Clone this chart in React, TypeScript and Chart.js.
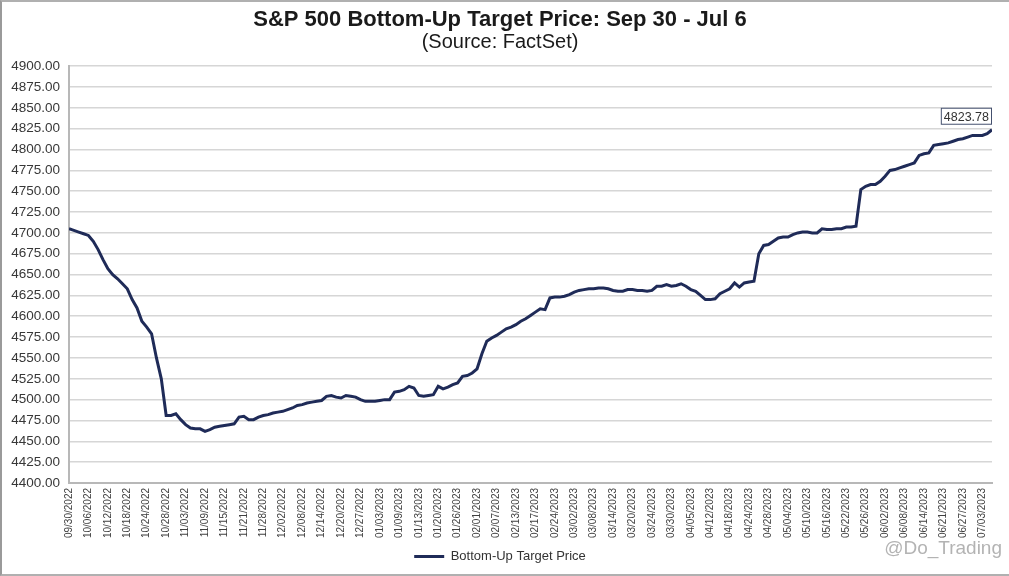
import React, { useEffect, useRef } from 'react';
import { Chart, registerables } from 'chart.js';

Chart.register(...registerables);

const chartTitle = 'S&P 500 Bottom-Up Target Price: Sep 30 - Jul 6';
const chartSubtitle = '(Source: FactSet)';
const seriesName = 'Bottom-Up Target Price';
const watermark = '@Do_Trading';

// one tick label every 4 business days
const tickLabels = [
  '09/30/2022', '10/06/2022', '10/12/2022', '10/18/2022', '10/24/2022', '10/28/2022',
  '11/03/2022', '11/09/2022', '11/15/2022', '11/21/2022', '11/28/2022', '12/02/2022',
  '12/08/2022', '12/14/2022', '12/20/2022', '12/27/2022', '01/03/2023', '01/09/2023',
  '01/13/2023', '01/20/2023', '01/26/2023', '02/01/2023', '02/07/2023', '02/13/2023',
  '02/17/2023', '02/24/2023', '03/02/2023', '03/08/2023', '03/14/2023', '03/20/2023',
  '03/24/2023', '03/30/2023', '04/05/2023', '04/12/2023', '04/18/2023', '04/24/2023',
  '04/28/2023', '05/04/2023', '05/10/2023', '05/16/2023', '05/22/2023', '05/26/2023',
  '06/02/2023', '06/08/2023', '06/14/2023', '06/21/2023', '06/27/2023', '07/03/2023',
];
const tickEvery = 4;

// daily (business day) target price, 09/30/2022 .. 07/06/2023
const values = [
  4705, 4703, 4701, 4699, 4697, 4690, 4680, 4668, 4657, 4650,
  4645, 4639, 4633, 4620, 4610, 4594, 4587, 4579, 4550, 4525,
  4481, 4481, 4483, 4476, 4470, 4466, 4465, 4465, 4462, 4464,
  4467, 4468, 4469, 4470, 4471, 4479, 4480, 4476, 4476, 4479,
  4481, 4482, 4484, 4485, 4486, 4488, 4490, 4493, 4494, 4496,
  4497, 4498, 4499, 4504, 4505, 4503, 4502, 4505, 4504, 4503,
  4500, 4498, 4498, 4498, 4499, 4500, 4500, 4509, 4510, 4512,
  4516, 4514, 4505, 4504, 4505, 4506, 4516, 4513, 4515, 4518,
  4520, 4528, 4529, 4532, 4537, 4555, 4570, 4574, 4577, 4581,
  4585, 4587, 4590, 4594, 4597, 4601, 4605, 4609, 4608, 4622,
  4623, 4623, 4624, 4626, 4629, 4631, 4632, 4633, 4633, 4634,
  4634, 4633, 4631, 4630, 4630, 4632, 4632, 4631, 4631, 4630,
  4631, 4636, 4636, 4638, 4636, 4637, 4639, 4636, 4632, 4630,
  4625, 4620, 4620, 4621, 4627, 4630, 4633, 4640, 4635, 4640,
  4641, 4642, 4675, 4685, 4686, 4690, 4694, 4695, 4695, 4698,
  4700, 4701, 4701, 4700, 4700, 4705, 4704, 4704, 4705, 4705,
  4707, 4707, 4708, 4752, 4756, 4758, 4758, 4762, 4768, 4775,
  4776, 4778, 4780, 4782, 4784, 4793, 4795, 4796, 4805, 4806,
  4807, 4808, 4810, 4812, 4813, 4815, 4817, 4817, 4817, 4819,
  4823.78,
];

const yMin = 4400;
const yMax = 4900;
const yStep = 25;

const FONT = '"Liberation Sans", Arial, sans-serif';
const LINE_COLOR = '#1f2b58';

export default function App() {
  const ref = useRef<HTMLCanvasElement | null>(null);

  useEffect(() => {
    document.body.style.margin = '0';
    const canvas = ref.current;
    if (!canvas) return;

    const lastValuePlugin = {
      id: 'lastValue',
      afterDatasetsDraw(chart: any) {
        const meta = chart.getDatasetMeta(0);
        const pt = meta.data[meta.data.length - 1];
        if (!pt) return;
        const ctx = chart.ctx;
        ctx.save();
        ctx.font = '12.5px ' + FONT;
        const text = values[values.length - 1].toFixed(2);
        const w = ctx.measureText(text).width + 6;
        const h = 17;
        const right = pt.x;
        const bottom = pt.y - 5;
        ctx.fillStyle = '#ffffff';
        ctx.fillRect(right - w, bottom - h, w, h);
        ctx.strokeStyle = '#44506e';
        ctx.lineWidth = 1;
        ctx.strokeRect(right - w + 0.5, bottom - h + 0.5, w - 1, h - 1);
        ctx.fillStyle = '#333333';
        ctx.textAlign = 'center';
        ctx.textBaseline = 'middle';
        ctx.fillText(text, right - w / 2, bottom - h / 2 + 1);
        ctx.restore();
      },
      afterDraw(chart: any) {
        const ctx = chart.ctx;
        ctx.save();
        ctx.font = '19px ' + FONT;
        ctx.fillStyle = 'rgba(160,160,160,0.8)';
        ctx.textAlign = 'right';
        ctx.textBaseline = 'middle';
        ctx.fillText(watermark, chart.width - 7, chart.height - 25);
        ctx.restore();
      },
    };

    const chart = new Chart(canvas, {
      type: 'line',
      data: {
        datasets: [
          {
            label: seriesName,
            data: values.map((v, i) => ({ x: i, y: v })),
            borderColor: LINE_COLOR,
            backgroundColor: LINE_COLOR,
            borderWidth: 3,
            pointRadius: 0,
            tension: 0,
          },
        ],
      },
      options: {
        responsive: false,
        animation: false,
        layout: { padding: { left: 6, right: 17, top: 0, bottom: 1 } },
        plugins: {
          tooltip: { enabled: false },
          title: {
            display: true,
            text: chartTitle,
            color: '#1a1a1a',
            font: { family: FONT, size: 22, weight: 'bold', lineHeight: 1.1 },
            padding: { top: 6, bottom: 0 },
          },
          subtitle: {
            display: true,
            text: chartSubtitle,
            color: '#1a1a1a',
            font: { family: FONT, size: 20, lineHeight: 1.0 },
            padding: { top: 0, bottom: 14 },
          },
          legend: {
            position: 'bottom',
            labels: {
              color: '#333333',
              font: { family: FONT, size: 13 },
              boxWidth: 30,
              boxHeight: 3,
              padding: 6,
              generateLabels: (c: any) =>
                (Chart.defaults.plugins.legend.labels as any)
                  .generateLabels(c)
                  .map((l: any) => ({ ...l, lineWidth: 0, strokeStyle: 'rgba(0,0,0,0)' })),
            },
          },
        },
        scales: {
          x: {
            type: 'linear',
            min: 0,
            max: values.length - 1,
            grid: { display: false, drawTicks: false },
            border: { display: true, color: '#b8b8b8', width: 2 },
            ticks: {
              stepSize: tickEvery,
              includeBounds: false,
              autoSkip: false,
              maxRotation: 90,
              minRotation: 90,
              padding: 5,
              color: '#404040',
              font: { family: FONT, size: 10 },
              callback: (v: any) => {
                const idx = Math.round(Number(v) / tickEvery);
                return Number(v) % tickEvery === 0 ? tickLabels[idx] ?? '' : '';
              },
            },
            afterFit: (scale: any) => {
              scale.height = 61;
            },
          },
          y: {
            min: yMin,
            max: yMax,
            grid: { color: '#d6d6d6', lineWidth: 1.6, drawTicks: false },
            border: { display: true, color: '#b8b8b8', width: 2 },
            ticks: {
              stepSize: yStep,
              padding: 9,
              color: '#383838',
              font: { family: FONT, size: 13.5 },
              callback: (v: any) => Number(v).toFixed(2),
            },
            afterFit: (scale: any) => {
              scale.width = 61;
            },
          },
        },
      },
      plugins: [lastValuePlugin],
    } as any);

    return () => chart.destroy();
  }, []);

  return (
    <div
      style={{
        width: 1009,
        height: 576,
        position: 'relative',
        boxSizing: 'border-box',
        borderLeft: '2px solid #9a9a9a',
        borderTop: '2px solid #b0b0b0',
        borderBottom: '2px solid #b0b0b0',
      }}
    >
      <canvas ref={ref} width={1007} height={572} style={{ display: 'block' }} />
    </div>
  );
}
